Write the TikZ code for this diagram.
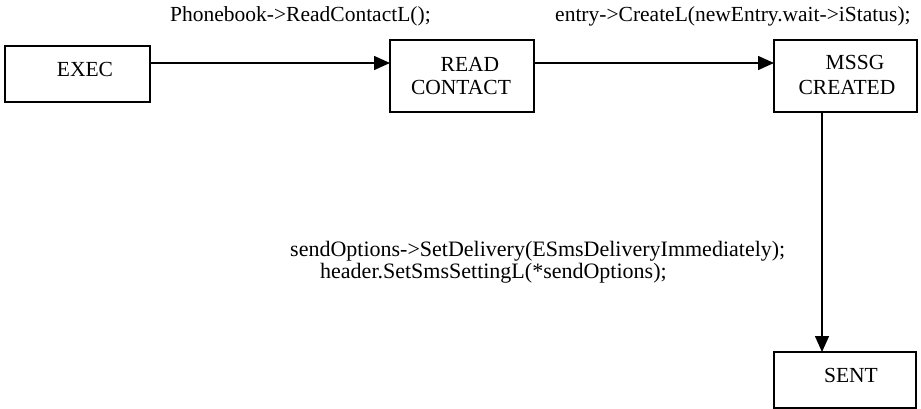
\documentclass[tikz,border=0pt]{standalone}
\usepackage{fontspec}
\setmainfont{Liberation Serif}
\usetikzlibrary{arrows.meta}
\begin{document}
\begin{tikzpicture}[x=1pt,y=-1pt,
  box/.style={draw,line width=1.5pt,rectangle,inner sep=0pt,outer sep=0pt},
  txt/.style={inner sep=0pt,anchor=base,font=\fontsize{21.5}{24}\selectfont},
  lbl/.style={inner sep=0pt,anchor=base west,font=\fontsize{21.5}{24}\selectfont},
  lbltwo/.style={lbl,font=\fontsize{22}{24}\selectfont},
  arr/.style={line width=1.5pt,-{Triangle[length=16pt,width=14pt]}}]
\useasboundingbox (0,0) rectangle (921,409);
% boxes
\node[box,minimum width=145pt,minimum height=56pt] (exec) at (77.5,74) {};
\node[box,minimum width=144pt,minimum height=72pt] (read) at (462,76) {};
\node[box,minimum width=143pt,minimum height=72pt] (mssg) at (845.5,76) {};
\node[box,minimum width=142pt,minimum height=56pt] (sent) at (845,380) {};
% box texts
\node[txt] (t1) at (85,77) {EXEC};
\node[txt] (t2) at (470,72) {READ};
\node[txt] (t3) at (461,95) {CONTACT};
\node[txt] (t4) at (855,70) {MSSG};
\node[txt] (t5) at (847,95) {CREATED};
\node[txt] (t6) at (851,382) {SENT};
% labels
\node[lbl] (l1) at (170,22) {Phonebook->ReadContactL();};
\node[lbl] (l2) at (555,22) {entry->CreateL(newEntry.wait->iStatus);};
\node[lbltwo] (l3) at (290,256) {sendOptions->SetDelivery(ESmsDeliveryImmediately);};
\node[lbltwo] (l4) at (320,278) {header.SetSmsSettingL(*sendOptions);};
% connectors
\draw[arr] ([yshift=11pt]exec.east) -- ([yshift=11pt]exec.east -| read.west);
\draw[arr] ([yshift=13pt]read.east) -- ([yshift=13pt]read.east -| mssg.west);
\draw[arr] ([xshift=-23.5pt]mssg.south) -- ([xshift=-23.5pt]mssg.south |- sent.north);
\end{tikzpicture}
\end{document}
